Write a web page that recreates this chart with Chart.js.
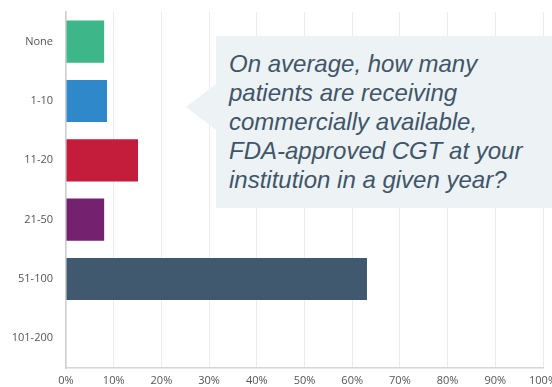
<!DOCTYPE html>
<html>
<head>
<meta charset="utf-8">
<script src="https://cdn.jsdelivr.net/npm/chart.js@4"></script>
<style>
  html, body { margin: 0; padding: 0; background: #fff; }
  #wrap { position: relative; width: 552px; height: 387px; overflow: hidden; }
  #callout {
    position: absolute; left: 216px; top: 36px; width: 340px; height: 172px;
    background: #edf2f5; box-sizing: border-box; padding: 13px 0 0 13px;
    font: italic 24px/29px "Liberation Sans", Arial, sans-serif; color: #3f5569;
  }
  #callout:before {
    content: ''; position: absolute; left: -30px; top: 48px;
    border-top: 23px solid transparent; border-bottom: 23px solid transparent;
    border-right: 30px solid #edf2f5;
  }
</style>
</head>
<body>
<div id="wrap">
  <canvas id="chart" width="552" height="387"></canvas>
  <div id="callout">On average, how many<br>patients are receiving<br>commercially available,<br>FDA-approved CGT at your<br>institution in a given year?</div>
</div>
<script>
'use strict';

const categories = ['None', '1-10', '11-20', '21-50', '51-100', '101-200'];
const percentages = [8.0, 8.6, 15.1, 8.0, 63.1, 0];
const barColors = ['#3db68a', '#2f88c9', '#c41d3c', '#74226f', '#41596e', '#999999'];
const tickValues = [0, 10, 20, 30, 40, 50, 60, 70, 80, 90, 100];

const ctx = document.getElementById('chart').getContext('2d');
new Chart(ctx, {
  type: 'bar',
  data: {
    labels: categories,
    datasets: [{
      data: percentages,
      backgroundColor: barColors,
      borderWidth: 0,
      barPercentage: 0.71,
      categoryPercentage: 1,
    }],
  },
  options: {
    indexAxis: 'y',
    responsive: false,
    animation: false,
    layout: { padding: { top: 12, right: 9, left: 0, bottom: 0 } },
    plugins: { legend: { display: false }, tooltip: { enabled: false } },
    scales: {
      x: {
        min: 0,
        max: 100,
        afterBuildTicks: scale => { scale.ticks = tickValues.map(v => ({ value: v })); },
        afterFit: scale => { scale.height = 19; scale.paddingRight = 0; scale.paddingLeft = 0; },
        grid: { color: '#ececec', drawTicks: false },
        border: { color: '#d6d6d6', width: 1.5 },
        ticks: {
          padding: 6,
          color: '#555',
          font: { family: 'Open Sans', size: 11 },
          callback: v => `${v}%`,
          maxRotation: 0,
        },
      },
      y: {
        afterFit: scale => { scale.width = 66; scale.paddingTop = 0; scale.paddingBottom = 0; },
        grid: { display: false, drawTicks: false },
        border: { color: '#d0d0d0', width: 1.5 },
        ticks: {
          padding: 13,
          color: '#555',
          font: { family: 'Open Sans', size: 11 },
        },
      },
    },
  },
});
</script>
</body>
</html>
